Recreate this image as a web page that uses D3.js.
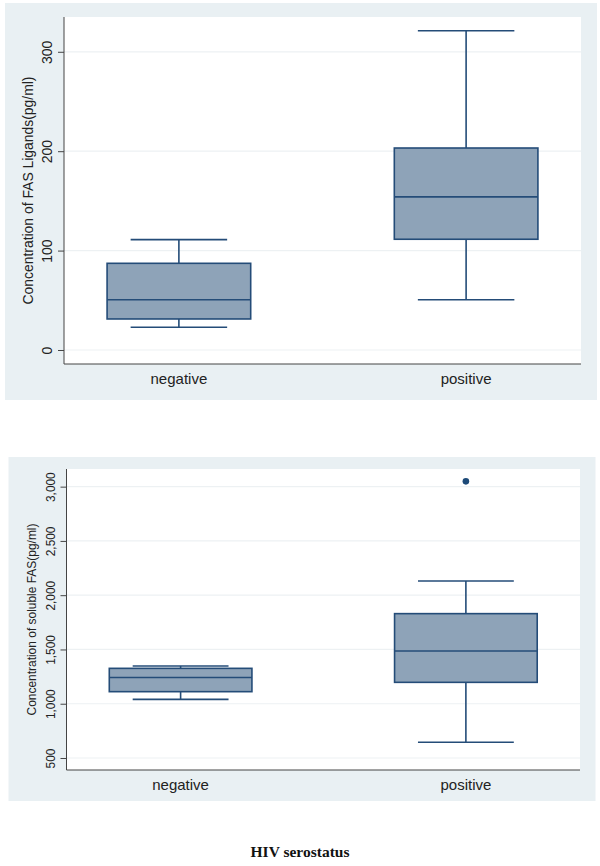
<!DOCTYPE html>
<html><head><meta charset="utf-8">
<script src="https://cdn.jsdelivr.net/npm/d3@7"></script>
<style>body{margin:0;background:#fff}svg{display:block}</style>
</head><body>
<svg id="c" width="600" height="866"></svg>
<script>
const categories = ["negative", "positive"];
// Panel 1: FAS Ligands (pg/ml)
const fasLow = [22.8, 50.6];
const fasQ1 = [31.2, 111.4];
const fasMedian = [50.6, 154];
const fasQ3 = [87.2, 203.2];
const fasHigh = [111, 321.2];
const fasOutliers = [[], []];
const fasTicks = [0, 100, 200, 300];
// Panel 2: soluble FAS (pg/ml)
const sfasLow = [1040, 645];
const sfasQ1 = [1111, 1197];
const sfasMedian = [1242, 1486];
const sfasQ3 = [1326, 1830];
const sfasHigh = [1348, 2131];
const sfasOutliers = [[], [3049]];
const sfasTicks = [500, 1000, 1500, 2000, 2500, 3000];

const svg = d3.select("#c");
const BG = "#e9f0f3", FILL = "#8ea3b8", STROKE = "#244c78", GRID = "#edf1f3", AXIS = "#444";

function panel(o) {
  svg.append("rect").attr("x", o.bg[0]).attr("y", o.bg[1]).attr("width", o.bg[2]).attr("height", o.bg[3]).attr("fill", BG);
  const p = o.plot; // x0,y0,x1,y1
  svg.append("rect").attr("x", p[0]).attr("y", p[1]).attr("width", p[2]-p[0]).attr("height", p[3]-p[1]).attr("fill", "#fff");
  const x = d3.scalePoint().domain(categories).range([p[0], p[2]]).padding(0.4);
  const y = d3.scaleLinear().domain(o.domain).range([p[3], p[1]]);
  const g = svg.append("g");
  // grid
  g.selectAll(".grid").data(o.ticks).join("line")
    .attr("x1", p[0]).attr("x2", p[2]).attr("y1", d => y(d)).attr("y2", d => y(d))
    .attr("stroke", GRID).attr("stroke-width", 1.2);
  // y axis
  const ya = g.append("g").attr("transform", `translate(${p[0]},0)`)
    .call(d3.axisLeft(y).tickValues(o.ticks).tickSize(6).tickPadding(0).tickFormat(o.fmt));
  ya.select(".domain").attr("stroke", AXIS).attr("d", `M0,${p[1]}V${p[3]}`);
  ya.selectAll(".tick line").attr("stroke", AXIS);
  ya.selectAll(".tick text").attr("transform", "rotate(-90)").attr("x", 0).attr("y", -12).attr("dy", "0")
    .attr("text-anchor", "middle").attr("font-family", "Liberation Sans, Arial, sans-serif")
    .attr("font-size", o.tickFs).attr("fill", "#222")
    .each(function(){ if (o.condense) d3.select(this).attr("textLength", this.getComputedTextLength()*o.condense).attr("lengthAdjust","spacingAndGlyphs"); });
  // x axis line
  g.append("line").attr("x1", p[0]).attr("x2", p[2]).attr("y1", p[3]).attr("y2", p[3]).attr("stroke", AXIS);
  g.selectAll(".cat").data(categories).join("text")
    .attr("x", d => x(d)).attr("y", p[3] + 20).attr("text-anchor", "middle")
    .attr("font-family", "Liberation Sans, Arial, sans-serif").attr("font-size", 15).attr("fill", "#222").text(d => d);
  // y title
  const t = g.append("text").attr("transform", `translate(${o.titleX},${(p[1]+p[3])/2}) rotate(-90)`)
    .attr("text-anchor", "middle").attr("font-family", "Liberation Sans, Arial, sans-serif")
    .attr("font-size", o.titleFs).attr("fill", "#222").text(o.title);
  if (o.titleLen) t.attr("textLength", o.titleLen).attr("lengthAdjust", "spacingAndGlyphs");
  // boxes
  const step = x.step();
  const bw = step * 0.5, cw = step * 0.336;
  categories.forEach((c, i) => {
    const cx = x(c);
    const bx = g.append("g").attr("stroke", STROKE).attr("stroke-width", 1.6).attr("fill", "none");
    bx.append("line").attr("x1", cx).attr("x2", cx).attr("y1", y(o.high[i])).attr("y2", y(o.q3[i]));
    bx.append("line").attr("x1", cx).attr("x2", cx).attr("y1", y(o.q1[i])).attr("y2", y(o.low[i]));
    bx.append("line").attr("x1", cx - cw/2).attr("x2", cx + cw/2).attr("y1", y(o.high[i])).attr("y2", y(o.high[i]));
    bx.append("line").attr("x1", cx - cw/2).attr("x2", cx + cw/2).attr("y1", y(o.low[i])).attr("y2", y(o.low[i]));
    bx.append("rect").attr("x", cx - bw/2).attr("width", bw).attr("y", y(o.q3[i])).attr("height", y(o.q1[i]) - y(o.q3[i]))
      .attr("fill", FILL);
    bx.append("line").attr("x1", cx - bw/2).attr("x2", cx + bw/2).attr("y1", y(o.median[i])).attr("y2", y(o.median[i]));
    o.out[i].forEach(v => {
      g.append("circle").attr("cx", cx).attr("cy", y(v)).attr("r", 3.3).attr("fill", "#1d4a78");
    });
  });
}

panel({
  bg: [5, 3, 592, 397], plot: [64, 17, 581, 364], domain: [-14.1, 335],
  ticks: fasTicks, fmt: d3.format("d"), tickFs: 14, titleX: 33, titleFs: 14, title: "Concentration of FAS Ligands(pg/ml)", titleLen: 228,
  low: fasLow, q1: fasQ1, median: fasMedian, q3: fasQ3, high: fasHigh, out: fasOutliers
});
panel({
  bg: [8.5, 457, 587, 344], plot: [66.5, 469, 580, 770], domain: [389.4, 3162.6],
  ticks: sfasTicks, fmt: d3.format(","), tickFs: 13.5, condense: 0.88, titleX: 36, titleFs: 13, title: "Concentration of soluble FAS(pg/ml)", titleLen: 192,
  low: sfasLow, q1: sfasQ1, median: sfasMedian, q3: sfasQ3, high: sfasHigh, out: sfasOutliers
});

svg.append("text").attr("x", 300).attr("y", 857).attr("text-anchor", "middle")
  .attr("font-family", "Liberation Serif, Times New Roman, serif").attr("font-weight", "bold").attr("font-size", 15.5)
  .attr("fill", "#111").text("HIV serostatus");
</script>
</body></html>
